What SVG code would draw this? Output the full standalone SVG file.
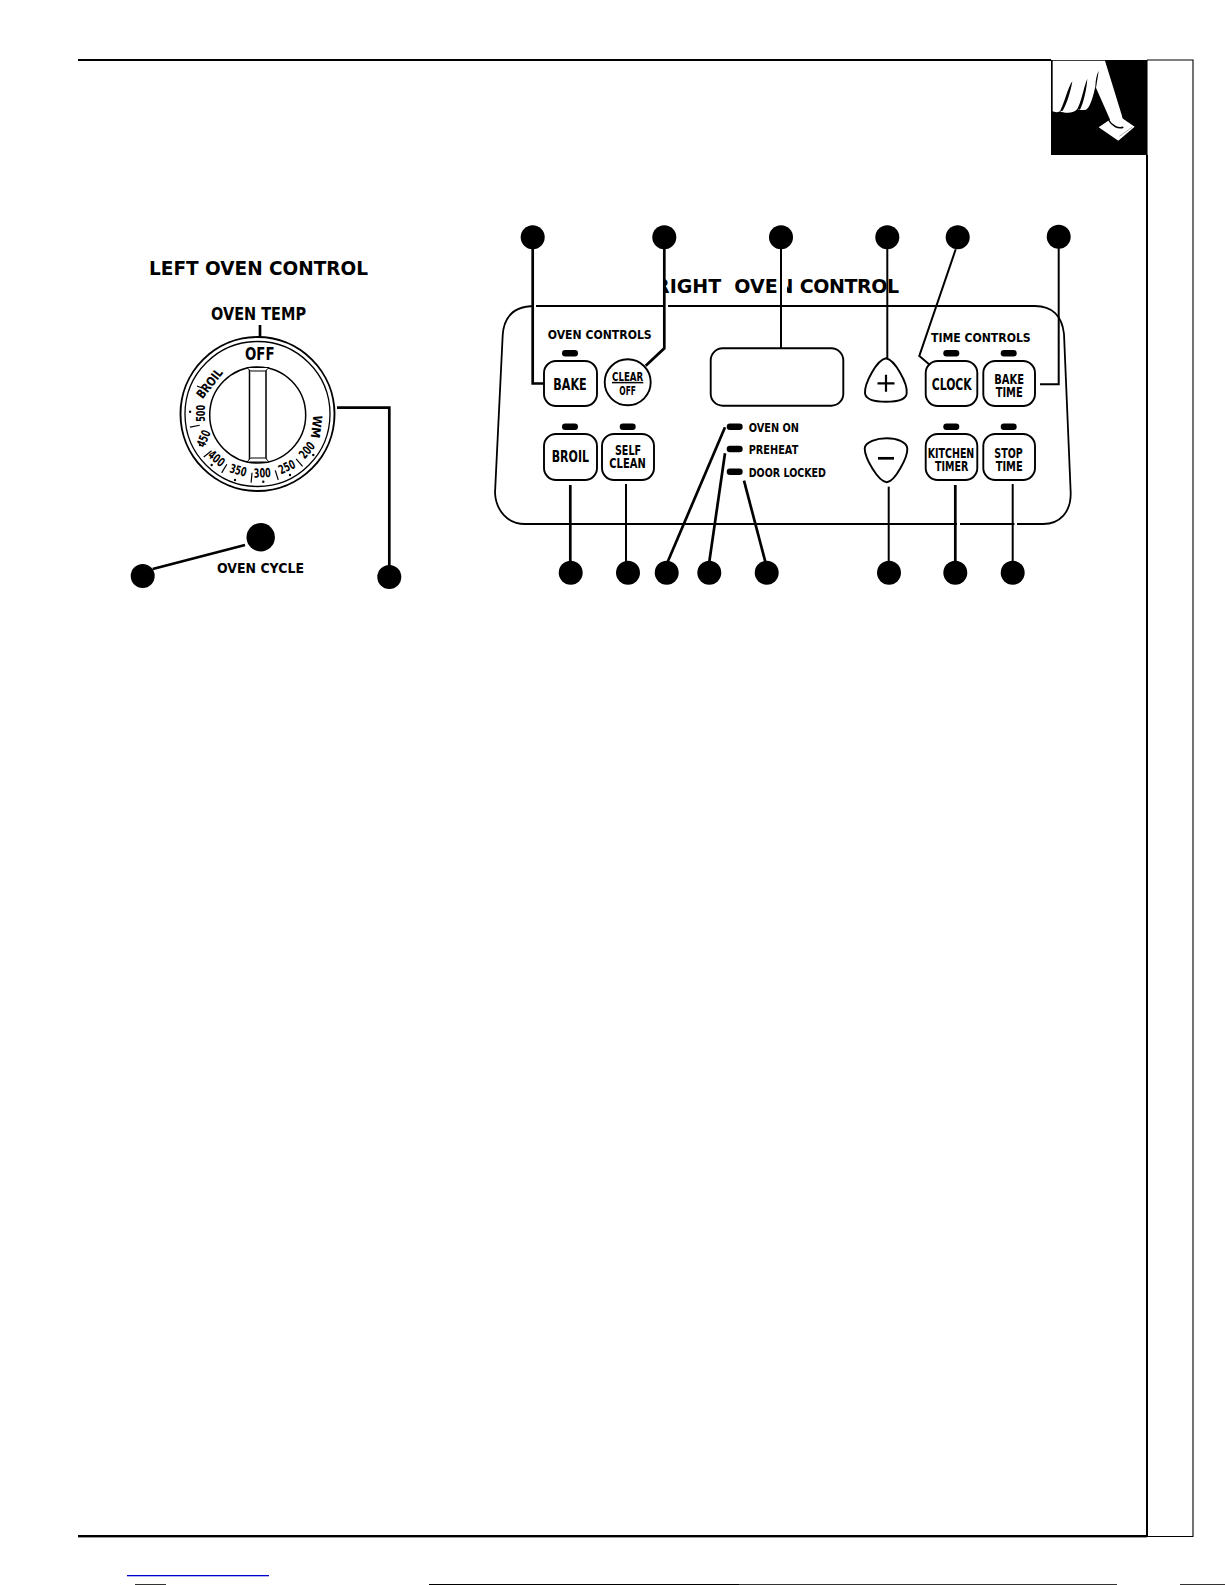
<svg xmlns="http://www.w3.org/2000/svg" width="1225" height="1585" viewBox="0 0 1225 1585">
<style>
text{font-family:"DejaVu Sans","Liberation Sans",sans-serif;font-weight:700;fill:#000}
.t{font-size:19px}
.m{font-size:17px}
.s{font-size:12.5px}
.b{font-size:16px}
.c{font-size:13.7px}
.d{font-size:12.5px;text-anchor:middle}
.btn{fill:#fff;stroke:#000;stroke-width:1.9}
.led{fill:#000}
.dot{fill:#000}
.con{fill:none;stroke:#000;stroke-width:2.7}
.thin{fill:none;stroke:#000;stroke-width:2}
.tick{stroke:#000;stroke-width:1.2}
</style>
<defs>
<circle id="bub" r="12" fill="#000"/>
<rect id="pill" x="-8" y="-3.2" width="16" height="6.4" rx="3.2" class="led"/>
</defs>
<rect width="1225" height="1585" fill="#fff"/>

<g id="page-frame">
<rect x="78" y="59" width="973" height="2" fill="#000"/>
<rect x="78" y="1535" width="1069" height="2.4" fill="#000"/>
<path d="M1147 60H1193V1536.5H1147V60" fill="none" stroke="#000" stroke-width="1.1"/>
<rect x="1146" y="155" width="2" height="1381" fill="#000"/>
<rect x="127" y="1575" width="142" height="1.3" fill="#0000cc"/>
<rect x="429" y="1584" width="310" height="1" fill="#000"/>
<rect x="739" y="1584" width="378" height="1" fill="#333"/>
<rect x="1180" y="1584" width="45" height="1" fill="#333"/>
<rect x="135" y="1584" width="31" height="1" fill="#333"/>
</g>

<g id="hand-icon">
<rect x="1051" y="60" width="96" height="95" fill="#000"/>
<g transform="translate(1050 58) scale(.3333)">
<path d="M146 208L178 186 216 180 254 206 205 248Z" fill="#fff"/>
<path d="M208 235L246 208" stroke="#888" stroke-width="2" fill="none"/>
<path d="M8 8H165L215 170C221 190 220 205 212 207 198 208 184 198 178 180L136 85C130 115 120 150 108 155 95 158 85 155 82 152 75 165 45 168 30 160 20 165 12 162 8 160Z" fill="#fff"/>
<path d="M176 186C186 204 204 213 220 208" fill="none" stroke="#000" stroke-width="4.5"/>
<path d="M30 160C45 130 55 85 67 70 62 100 50 140 38 158ZM82 152C95 130 100 90 112 62 110 95 100 135 90 155ZM136 85C137 65 140 50 146 38 144 55 141 70 138 90Z" fill="#000"/>
</g>
</g>

<g id="left-oven-control">
<text class="t" x="149" y="275" textLength="219" lengthAdjust="spacingAndGlyphs">LEFT OVEN CONTROL</text>
<text class="m" x="211" y="320" textLength="95" lengthAdjust="spacingAndGlyphs">OVEN TEMP</text>
</g>

<g id="oven-temp-dial">
<circle cx="257.5" cy="414" r="77" fill="#fff" stroke="#000" stroke-width="1.9"/>
<circle cx="257.5" cy="414" r="72.5" fill="none" stroke="#000" stroke-width="1.3"/>
<circle cx="257.7" cy="415" r="48" fill="#fff" stroke="#000" stroke-width="1.5"/>
<path d="M249.5 369L266 369 266 460 249.5 460Z" fill="#fff" stroke="#000" stroke-width="1.5"/>
<path d="M247 367.5H269L265.5 371H250.5ZM247 462H269L265.5 458H250.5Z" fill="#fff" stroke="#000" stroke-width="1"/>
<text class="m" x="245" y="360" textLength="29.5" lengthAdjust="spacingAndGlyphs">OFF</text>
<text class="d" transform="translate(209.3 383.3) rotate(-52)" y="4.6" textLength="34" lengthAdjust="spacingAndGlyphs">BROIL</text>
<text class="d" transform="translate(200 413.3) rotate(-90)" y="4.6" textLength="17" lengthAdjust="spacingAndGlyphs">500</text>
<text class="d" transform="translate(203.3 438.3) rotate(-68)" y="4.6" textLength="17" lengthAdjust="spacingAndGlyphs">450</text>
<text class="d" transform="translate(216.7 458.3) rotate(40)" y="4.6" textLength="17" lengthAdjust="spacingAndGlyphs">400</text>
<text class="d" transform="translate(238.3 470) rotate(15)" y="4.6" textLength="17" lengthAdjust="spacingAndGlyphs">350</text>
<text class="d" transform="translate(262.3 472.7) rotate(-3)" y="4.6" textLength="17" lengthAdjust="spacingAndGlyphs">300</text>
<text class="d" transform="translate(286.7 466.7) rotate(-25)" y="4.6" textLength="17" lengthAdjust="spacingAndGlyphs">250</text>
<text class="d" transform="translate(306.7 450) rotate(-50)" y="4.6" textLength="17" lengthAdjust="spacingAndGlyphs">200</text>
<text class="d" transform="translate(316.7 426.7) rotate(97)" y="4.6" textLength="23" lengthAdjust="spacingAndGlyphs">WM</text>
<g class="tick">
<line x1="257.7" y1="473" x2="257.7" y2="483" transform="rotate(79 257.7 414)"/>
<line x1="257.7" y1="473" x2="257.7" y2="483" transform="rotate(51.4 257.7 414)"/>
<line x1="257.7" y1="473" x2="257.7" y2="483" transform="rotate(31.5 257.7 414)"/>
<line x1="257.7" y1="473" x2="257.7" y2="483" transform="rotate(5.5 257.7 414)"/>
<line x1="257.7" y1="473" x2="257.7" y2="483" transform="rotate(-17.3 257.7 414)"/>
<line x1="257.7" y1="473" x2="257.7" y2="483" transform="rotate(-40.6 257.7 414)"/>
</g>
<g class="dot">
<circle cx="190.1" cy="411.7" r="1.2"/>
<circle cx="200" cy="445" r="1.2"/>
<circle cx="211.7" cy="465" r="1.2"/>
<circle cx="235" cy="480" r="1.2"/>
<circle cx="263.3" cy="481.7" r="1.2"/>
<circle cx="290" cy="475" r="1.2"/>
<circle cx="313.3" cy="455" r="1.2"/>
</g>
<line x1="197" y1="386" x2="202" y2="388" stroke="#000" stroke-width="1.2"/>
</g>

<g id="oven-cycle">
<circle cx="260.7" cy="537.3" r="14.2" fill="#000"/>
<text class="c" x="217" y="572.5" textLength="87" lengthAdjust="spacingAndGlyphs">OVEN CYCLE</text>
</g>

<g id="right-oven-title">
<text class="t" x="655" y="292.7">RIGHT <tspan dx="6.5">OVEN</tspan> <tspan dx="-.5" style="letter-spacing:-.4px">CONTROL</tspan></text>
<rect x="645" y="276" width="20" height="19" fill="#fff"/>
<rect x="779" y="276" width="8" height="19" fill="#fff"/>
</g>

<g id="panel">
<path d="M535 306H1035C1052 306 1062 316 1064 334L1070.7 493C1071 512 1060 524 1043 524H525C507 524 496 510 495 493L502.7 335C504 316 515 306 535 306Z" fill="#fff" stroke="#000" stroke-width="1.8"/>
<rect x="533.5" y="303" width="2.5" height="6" fill="#fff"/>
<rect x="665" y="303" width="3" height="6" fill="#fff"/>
<rect x="957" y="521" width="3" height="6" fill="#fff"/>
<rect x="1014.5" y="521" width="2.5" height="6" fill="#fff"/>
<text class="s" x="547.7" y="339.3" textLength="104" lengthAdjust="spacingAndGlyphs">OVEN CONTROLS</text>
<text class="s" x="931" y="342" textLength="99.7" lengthAdjust="spacingAndGlyphs">TIME CONTROLS</text>
</g>

<g id="btn-bake"><use href="#pill" x="570" y="353.3"/><rect class="btn" x="544" y="361" width="53" height="45" rx="12"/><text class="b" x="553.3" y="390" textLength="33.4" lengthAdjust="spacingAndGlyphs">BAKE</text></g>
<g id="btn-clear-off"><circle class="btn" cx="627.7" cy="382.3" r="23"/><text class="s" x="612" y="380.5" textLength="31.3" lengthAdjust="spacingAndGlyphs">CLEAR</text><line x1="612" y1="382.6" x2="643.3" y2="382.6" stroke="#000" stroke-width="1.5"/><text class="s" x="619.3" y="395" textLength="16.7" lengthAdjust="spacingAndGlyphs">OFF</text></g>
<g id="btn-broil"><use href="#pill" x="570" y="426.7"/><rect class="btn" x="544" y="434" width="53" height="46" rx="12"/><text class="b" x="551.7" y="462.3" textLength="37.3" lengthAdjust="spacingAndGlyphs">BROIL</text></g>
<g id="btn-self-clean"><use href="#pill" x="627.7" y="426.7"/><rect class="btn" x="602" y="434" width="52" height="46" rx="12"/><text class="c" x="615" y="455" textLength="26" lengthAdjust="spacingAndGlyphs">SELF</text><text class="c" x="609.3" y="468.3" textLength="36.4" lengthAdjust="spacingAndGlyphs">CLEAN</text></g>
<g id="display"><rect class="btn" x="710.7" y="348.3" width="132.6" height="57.4" rx="12"/></g>
<g id="indicator-oven-on"><use href="#pill" x="734.7" y="426.7"/><text class="s" x="748.7" y="432" textLength="50.3" lengthAdjust="spacingAndGlyphs">OVEN ON</text></g>
<g id="indicator-preheat"><use href="#pill" x="734.7" y="449"/><text class="s" x="748.7" y="454.3" textLength="49.6" lengthAdjust="spacingAndGlyphs">PREHEAT</text></g>
<g id="indicator-door-locked"><use href="#pill" x="734.7" y="471.7"/><text class="s" x="748.7" y="477" textLength="77.3" lengthAdjust="spacingAndGlyphs">DOOR LOCKED</text></g>
<g id="btn-plus"><path class="btn" d="M886 358.3C895 360 907.8 383.3 906.7 393.3 906 400 895 401.7 886 401.7 876.7 401.7 866 400 865 393.3 864.3 383.3 876.7 360 886 358.3Z"/><path d="M877.5 383.3H894.5M886 374.8V391.8" stroke="#000" stroke-width="2.2" fill="none"/></g>
<g id="btn-minus"><path class="btn" d="M886.7 438.3C896.7 438.3 906.7 441.7 907.3 448.3 908 456.7 895 481.7 886.7 482.3 878.3 481.7 864.7 458.3 864.7 448.3 865.3 441.7 876.7 438.3 886.7 438.3Z"/><line x1="878" y1="458.3" x2="894" y2="458.3" stroke="#000" stroke-width="2.7"/></g>
<g id="btn-clock"><use href="#pill" x="951.3" y="353.3"/><rect class="btn" x="925.7" y="361" width="51.6" height="45" rx="12"/><text class="b" x="931.7" y="390" textLength="40" lengthAdjust="spacingAndGlyphs">CLOCK</text></g>
<g id="btn-bake-time"><use href="#pill" x="1008.7" y="353.3"/><rect class="btn" x="983.3" y="361" width="51.7" height="45" rx="12"/><text class="c" x="994.3" y="384" textLength="29.7" lengthAdjust="spacingAndGlyphs">BAKE</text><text class="c" x="995.7" y="397.3" textLength="27" lengthAdjust="spacingAndGlyphs">TIME</text></g>
<g id="btn-kitchen-timer"><use href="#pill" x="951.3" y="426.7"/><rect class="btn" x="925.7" y="434" width="51.6" height="46" rx="12"/><text class="c" x="927.7" y="457.7" textLength="46.6" lengthAdjust="spacingAndGlyphs">KITCHEN</text><text class="c" x="935" y="471" textLength="33.3" lengthAdjust="spacingAndGlyphs">TIMER</text></g>
<g id="btn-stop-time"><use href="#pill" x="1008.7" y="426.7"/><rect class="btn" x="983.3" y="434" width="51.7" height="46" rx="12"/><text class="c" x="994.3" y="457.7" textLength="28.4" lengthAdjust="spacingAndGlyphs">STOP</text><text class="c" x="995.7" y="471" textLength="27" lengthAdjust="spacingAndGlyphs">TIME</text></g>

<g id="connectors">
<path class="con" d="M260 325V337"/>
<path class="con" d="M152.7 569L245 545"/>
<path class="con" d="M337 407.7H389.3V568"/>
<path class="con" d="M532.7 248V383.5H544"/>
<path class="con" d="M664.3 248V348.3L645.7 365.7"/>
<path class="thin" d="M781 248V348"/>
<path class="thin" d="M887.3 248V358"/>
<path class="thin" d="M955.7 249.3L919.3 356 930 365"/>
<path class="thin" d="M1058.7 248V384.3H1040"/>
<path class="con" d="M570.3 485V563"/>
<path class="thin" d="M626 484V563"/>
<path class="con" d="M725 427.3L667.7 561.7"/>
<path class="con" d="M725 453.3L709.3 561.7"/>
<path class="con" d="M744 480.7L765.3 561.7"/>
<path class="thin" d="M888.7 486.7V563"/>
<path class="con" d="M955.3 485V563"/>
<path class="thin" d="M1012.7 484V563"/>
</g>

<g id="callouts">
<use id="c1" href="#bub" x="142.7" y="576"/>
<use id="c2" href="#bub" x="389.3" y="577"/>
<use id="c3" href="#bub" x="532.7" y="237.3"/>
<use id="c4" href="#bub" x="664.3" y="237.3"/>
<use id="c5" href="#bub" x="781" y="237.3"/>
<use id="c6" href="#bub" x="887.3" y="237.3"/>
<use id="c7" href="#bub" x="957.7" y="237.3"/>
<use id="c8" href="#bub" x="1058.7" y="236.7"/>
<use id="c9" href="#bub" x="570.7" y="572.7"/>
<use id="c10" href="#bub" x="628" y="572.7"/>
<use id="c11" href="#bub" x="666.7" y="572.7"/>
<use id="c12" href="#bub" x="709.3" y="572.7"/>
<use id="c13" href="#bub" x="766.7" y="572.7"/>
<use id="c14" href="#bub" x="889" y="572.7"/>
<use id="c15" href="#bub" x="955.3" y="572.7"/>
<use id="c16" href="#bub" x="1012.7" y="572.7"/>
</g>
</svg>
